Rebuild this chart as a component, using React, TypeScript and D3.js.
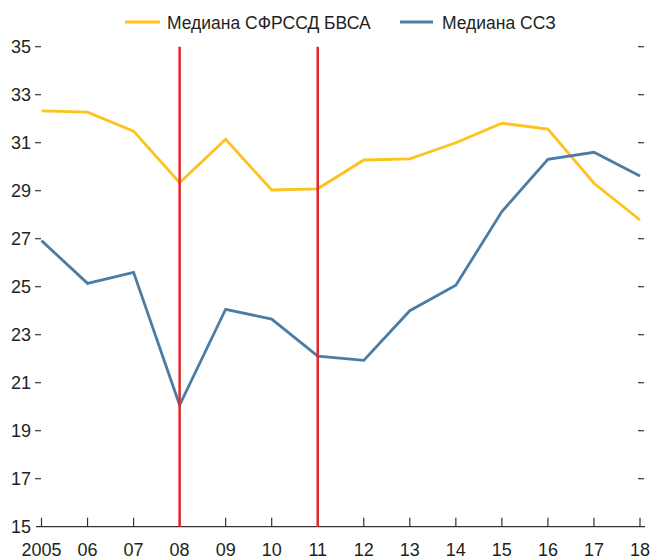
import React from 'react';
import * as d3 from 'd3';

const years = ['2005', '06', '07', '08', '09', '10', '11', '12', '13', '14', '15', '16', '17', '18'];
const bvsaMedian = [32.33, 32.27, 31.48, 29.33, 31.14, 29.03, 29.08, 30.28, 30.33, 31.0, 31.81, 31.57, 29.31, 27.78];
const sszMedian = [26.92, 25.14, 25.6, 20.07, 24.06, 23.65, 22.11, 21.93, 24.0, 25.06, 28.13, 30.31, 30.6, 29.61];
const yTicks = [15, 17, 19, 21, 23, 25, 27, 29, 31, 33, 35];
const markerYears = ['08', '11'];

const seriesNames = ['Медиана СФРССД БВСА', 'Медиана ССЗ'];
const colors = ['#FDC21E', '#4A7DA6'];

export default function App() {
  const width = 651;
  const height = 559;
  const font = '"Liberation Sans", Arial, sans-serif';

  const x = d3.scalePoint<string>().domain(years).range([41.5, 640]);
  const y = d3.scaleLinear().domain([15, 35]).range([526.7, 46.7]);

  const line = d3
    .line<number>()
    .x((_, i) => x(years[i]) as number)
    .y((d) => y(d));

  const series = [bvsaMedian, sszMedian];

  return (
    <svg
      width={width}
      height={height}
      style={{ position: 'absolute', left: 0, top: 0, background: '#fff' }}
      fontFamily={font}
    >
      {/* legend */}
      <line x1={125} x2={160} y1={22} y2={22} stroke={colors[0]} strokeWidth={3} />
      <text x={167} y={28.5} fontSize={17.5} fill="#231F20">{seriesNames[0]}</text>
      <line x1={400} x2={433} y1={22} y2={22} stroke={colors[1]} strokeWidth={3} />
      <text x={442} y={28.5} fontSize={17.5} fill="#231F20">{seriesNames[1]}</text>

      {/* y ticks, left and right */}
      {yTicks.map((t) => (
        <g key={t}>
          <text x={31} y={y(t) + 6.5} textAnchor="end" fontSize={18} fill="#231F20">{t}</text>
          {t !== 15 && (
            <>
              <line x1={35} x2={41} y1={y(t)} y2={y(t)} stroke="#333" strokeWidth={1.2} />
              <line x1={638} x2={644} y1={y(t)} y2={y(t)} stroke="#333" strokeWidth={1.2} />
            </>
          )}
        </g>
      ))}

      {/* x axis */}
      <line x1={36} x2={645} y1={y(15)} y2={y(15)} stroke="#333" strokeWidth={1.2} />
      {years.map((yr) => (
        <g key={yr}>
          <line x1={x(yr)} x2={x(yr)} y1={y(15) - 9} y2={y(15)} stroke="#333" strokeWidth={1.2} />
          <text x={x(yr)} y={556} textAnchor="middle" fontSize={18} fill="#231F20">{yr}</text>
        </g>
      ))}

      {/* series */}
      {series.map((s, i) => (
        <path key={i} d={line(s) ?? ''} fill="none" stroke={colors[i]} strokeWidth={2.8} strokeLinejoin="miter" />
      ))}

      {/* red markers on top */}
      {markerYears.map((yr) => (
        <line key={yr} x1={x(yr)} x2={x(yr)} y1={y(35)} y2={y(15)} stroke="#E2262B" strokeWidth={2.5} />
      ))}
    </svg>
  );
}
